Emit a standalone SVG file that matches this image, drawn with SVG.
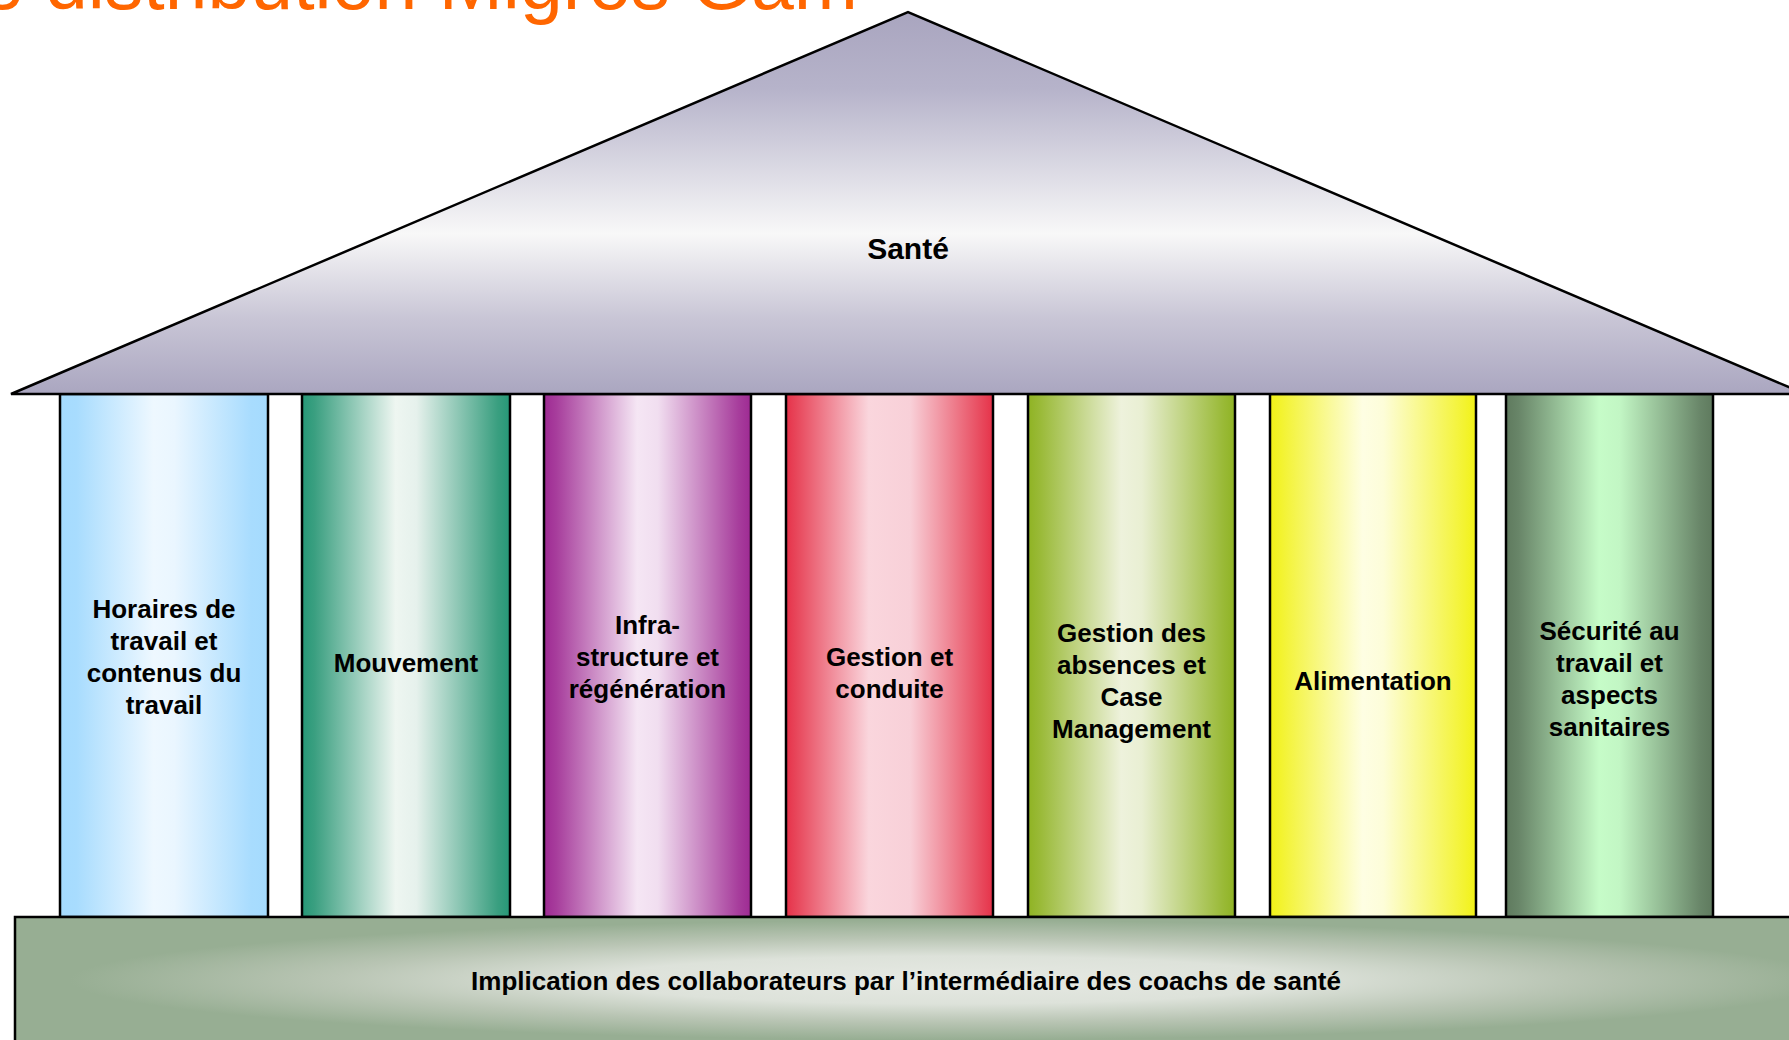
<svg xmlns="http://www.w3.org/2000/svg" width="1789" height="1040" viewBox="0 0 1789 1040">
  <style>
    .lbl { font-family: "Liberation Sans", Arial, sans-serif; font-weight: bold; font-size: 26px; fill: #000; text-anchor: middle; }
    .pillar { stroke: #000; stroke-width: 2.5; }
    .title { font-family: "Liberation Sans", Arial, sans-serif; font-size: 77px; fill: #ff6600; text-anchor: end; }
  </style>
  <defs>
    <linearGradient id="roofGrad" x1="0" y1="12" x2="0" y2="394" gradientUnits="userSpaceOnUse">
      <stop offset="0" stop-color="#a9a5bf"/>
      <stop offset="0.2" stop-color="#b6b3ca"/>
      <stop offset="0.58" stop-color="#f8f8f8"/>
      <stop offset="0.8" stop-color="#c9c6d6"/>
      <stop offset="1" stop-color="#aaa6c0"/>
    </linearGradient>
    <linearGradient id="g1" x1="0" y1="0" x2="1" y2="0">
      <stop offset="0" stop-color="#a5dbfe"/><stop offset="0.08" stop-color="#a8dcfe"/>
      <stop offset="0.45" stop-color="#eef8ff"/><stop offset="0.55" stop-color="#eaf6ff"/>
      <stop offset="0.92" stop-color="#a8dcfe"/><stop offset="1" stop-color="#a5dbfe"/>
    </linearGradient>
    <linearGradient id="g2" x1="0" y1="0" x2="1" y2="0">
      <stop offset="0" stop-color="#269877"/><stop offset="0.06" stop-color="#3a9f80"/>
      <stop offset="0.45" stop-color="#eef6f1"/><stop offset="0.55" stop-color="#e6f1ec"/>
      <stop offset="0.94" stop-color="#3a9f80"/><stop offset="1" stop-color="#269877"/>
    </linearGradient>
    <linearGradient id="g3" x1="0" y1="0" x2="1" y2="0">
      <stop offset="0" stop-color="#9e2a93"/><stop offset="0.06" stop-color="#a73d9c"/>
      <stop offset="0.45" stop-color="#f5e6f4"/><stop offset="0.55" stop-color="#f1def0"/>
      <stop offset="0.94" stop-color="#a73d9c"/><stop offset="1" stop-color="#9e2a93"/>
    </linearGradient>
    <linearGradient id="g4" x1="0" y1="0" x2="1" y2="0">
      <stop offset="0" stop-color="#e63249"/><stop offset="0.06" stop-color="#e84a5e"/>
      <stop offset="0.4" stop-color="#fad6dd"/><stop offset="0.6" stop-color="#f8d0d8"/>
      <stop offset="0.94" stop-color="#e84a5e"/><stop offset="1" stop-color="#e63249"/>
    </linearGradient>
    <linearGradient id="g5" x1="0" y1="0" x2="1" y2="0">
      <stop offset="0" stop-color="#8fb323"/><stop offset="0.06" stop-color="#9aba38"/>
      <stop offset="0.45" stop-color="#eef2dc"/><stop offset="0.55" stop-color="#e9efd3"/>
      <stop offset="0.94" stop-color="#9aba38"/><stop offset="1" stop-color="#8fb323"/>
    </linearGradient>
    <linearGradient id="g6" x1="0" y1="0" x2="1" y2="0">
      <stop offset="0" stop-color="#f2f215"/><stop offset="0.06" stop-color="#f3f332"/>
      <stop offset="0.45" stop-color="#fefee3"/><stop offset="0.55" stop-color="#fdfdd9"/>
      <stop offset="0.94" stop-color="#f3f332"/><stop offset="1" stop-color="#f2f215"/>
    </linearGradient>
    <linearGradient id="g7" x1="0" y1="0" x2="1" y2="0">
      <stop offset="0" stop-color="#5f7a5e"/><stop offset="0.06" stop-color="#688568"/>
      <stop offset="0.45" stop-color="#c6fcc8"/><stop offset="0.55" stop-color="#c2f6c4"/>
      <stop offset="0.94" stop-color="#688568"/><stop offset="1" stop-color="#5f7a5e"/>
    </linearGradient>
    <radialGradient id="baseGrad" gradientUnits="userSpaceOnUse" cx="950" cy="980" r="880" gradientTransform="translate(950 980) scale(1 0.068) translate(-950 -980)">
      <stop offset="0" stop-color="#e6e9e3"/>
      <stop offset="0.4" stop-color="#dde2da"/>
      <stop offset="0.7" stop-color="#b9c5b4"/>
      <stop offset="1" stop-color="#97ae93"/>
    </radialGradient>
  </defs>

  <g id="title">
    <text class="title" x="858" y="9">e distribution Migros Gam</text>
  </g>

  <g id="pillars">
    <g id="pillar-horaires">
      <rect class="pillar" x="60" y="394" width="208" height="523" fill="url(#g1)"/>
      <text class="lbl" x="164" y="618">Horaires de</text>
      <text class="lbl" x="164" y="650">travail et</text>
      <text class="lbl" x="164" y="682">contenus du</text>
      <text class="lbl" x="164" y="714">travail</text>
    </g>
    <g id="pillar-mouvement">
      <rect class="pillar" x="302" y="394" width="208" height="523" fill="url(#g2)"/>
      <text class="lbl" x="406" y="672">Mouvement</text>
    </g>
    <g id="pillar-infrastructure">
      <rect class="pillar" x="544" y="394" width="207" height="523" fill="url(#g3)"/>
      <text class="lbl" x="647.5" y="634">Infra-</text>
      <text class="lbl" x="647.5" y="666">structure et</text>
      <text class="lbl" x="647.5" y="698">régénération</text>
    </g>
    <g id="pillar-gestion-conduite">
      <rect class="pillar" x="786" y="394" width="207" height="523" fill="url(#g4)"/>
      <text class="lbl" x="889.5" y="666">Gestion et</text>
      <text class="lbl" x="889.5" y="698">conduite</text>
    </g>
    <g id="pillar-absences">
      <rect class="pillar" x="1028" y="394" width="207" height="523" fill="url(#g5)"/>
      <text class="lbl" x="1131.5" y="642">Gestion des</text>
      <text class="lbl" x="1131.5" y="674">absences et</text>
      <text class="lbl" x="1131.5" y="706">Case</text>
      <text class="lbl" x="1131.5" y="738">Management</text>
    </g>
    <g id="pillar-alimentation">
      <rect class="pillar" x="1270" y="394" width="206" height="523" fill="url(#g6)"/>
      <text class="lbl" x="1373" y="690">Alimentation</text>
    </g>
    <g id="pillar-securite">
      <rect class="pillar" x="1506" y="394" width="207" height="523" fill="url(#g7)"/>
      <text class="lbl" x="1609.5" y="640">Sécurité au</text>
      <text class="lbl" x="1609.5" y="672">travail et</text>
      <text class="lbl" x="1609.5" y="704">aspects</text>
      <text class="lbl" x="1609.5" y="736">sanitaires</text>
    </g>
  </g>

  <g id="roof">
    <polygon points="11,394 908,12 1805,394" fill="url(#roofGrad)" stroke="#000" stroke-width="2.5" stroke-linejoin="miter"/>
    <text class="lbl" x="908" y="259" style="font-size:30px">Santé</text>
  </g>

  <g id="base">
    <rect x="15" y="917" width="1800" height="140" fill="url(#baseGrad)" stroke="#000" stroke-width="2.5"/>
    <text class="lbl" x="906" y="990">Implication des collaborateurs par l’intermédiaire des coachs de santé</text>
  </g>

  <g id="connectors"/>
</svg>
